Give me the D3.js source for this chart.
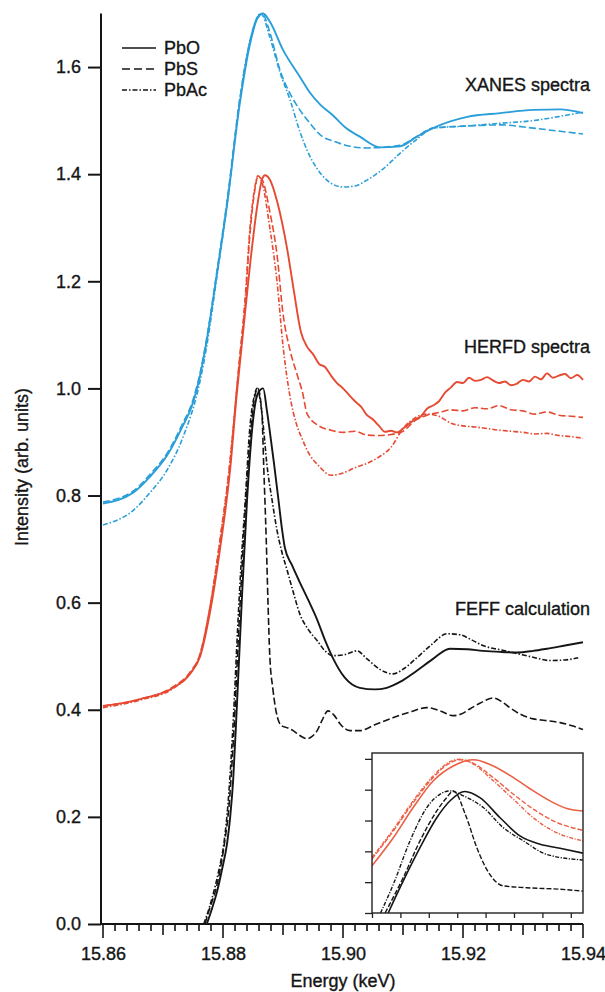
<!DOCTYPE html>
<html>
<head>
<meta charset="utf-8">
<script src="https://cdn.jsdelivr.net/npm/d3@7"></script>
<style>
  html, body { margin: 0; padding: 0; background: #fff; }
  svg { display: block; font-family: "Liberation Sans", Arial, sans-serif; }
  svg text { stroke: #151515; stroke-width: 0.35px; }
</style>
</head>
<body>
<div id="chart"></div>
<script>
// Main panel: [energy keV, intensity]
const xanesPbO = [[15.86, 0.785], [15.865, 0.805], [15.8678, 0.835], [15.8707, 0.875], [15.8733, 0.93], [15.8748, 0.967], [15.8762, 1.025], [15.8773, 1.09], [15.879, 1.215], [15.8807, 1.345], [15.8828, 1.532], [15.8845, 1.643], [15.8857, 1.69], [15.8867, 1.70], [15.8878, 1.685], [15.89, 1.632], [15.8928, 1.582], [15.8945, 1.552], [15.8962, 1.53], [15.8983, 1.51], [15.9003, 1.488], [15.9028, 1.47], [15.9062, 1.45], [15.9095, 1.452], [15.9123, 1.47], [15.915, 1.486], [15.9207, 1.507], [15.9262, 1.514], [15.9317, 1.52], [15.9362, 1.521], [15.94, 1.514]];
const xanesPbS = [[15.86, 0.788], [15.865, 0.808], [15.8678, 0.839], [15.8707, 0.879], [15.8733, 0.935], [15.8748, 0.972], [15.8762, 1.03], [15.8773, 1.095], [15.879, 1.22], [15.8807, 1.352], [15.8828, 1.54], [15.8845, 1.648], [15.8857, 1.692], [15.8865, 1.70], [15.8878, 1.665], [15.8895, 1.594], [15.8912, 1.55], [15.8928, 1.52], [15.8945, 1.495], [15.8967, 1.469], [15.8983, 1.462], [15.9012, 1.452], [15.904, 1.449], [15.9095, 1.454], [15.9123, 1.47], [15.915, 1.486], [15.9207, 1.49], [15.9262, 1.492], [15.9317, 1.486], [15.9362, 1.48], [15.94, 1.475]];
const xanesPbAc = [[15.86, 0.745], [15.865, 0.772], [15.8678, 0.805], [15.8707, 0.848], [15.8733, 0.908], [15.8762, 1.015], [15.8773, 1.08], [15.879, 1.21], [15.8807, 1.345], [15.8828, 1.54], [15.8845, 1.65], [15.8863, 1.70], [15.8878, 1.656], [15.8895, 1.59], [15.8912, 1.538], [15.8928, 1.48], [15.894, 1.445], [15.8957, 1.41], [15.8973, 1.389], [15.9, 1.376], [15.902, 1.378], [15.904, 1.389], [15.9067, 1.41], [15.9095, 1.439], [15.9123, 1.465], [15.915, 1.486], [15.9207, 1.49], [15.9262, 1.495], [15.9317, 1.50], [15.9362, 1.508], [15.94, 1.516]];

const herfdPbO = [[15.86, 0.407], [15.8662, 0.42], [15.8717, 0.441], [15.8745, 0.467], [15.8762, 0.50], [15.8778, 0.58], [15.8795, 0.70], [15.8812, 0.85], [15.8823, 0.99], [15.8833, 1.10], [15.8845, 1.23], [15.8857, 1.34], [15.8865, 1.39], [15.887, 1.398], [15.8878, 1.39], [15.889, 1.35], [15.8907, 1.26], [15.8917, 1.19],
  [15.893, 1.105], [15.894, 1.078], [15.895, 1.064], [15.896, 1.046], [15.897, 1.04], [15.898, 1.024], [15.899, 1.01], [15.900, 1.0], [15.901, 0.988], [15.902, 0.976], [15.903, 0.966], [15.904, 0.95], [15.905, 0.942], [15.906, 0.93], [15.907, 0.919], [15.908, 0.921], [15.909, 0.918], [15.910, 0.925], [15.911, 0.934], [15.912, 0.942], [15.913, 0.948], [15.914, 0.962], [15.915, 0.968], [15.916, 0.976], [15.917, 0.992], [15.918, 1.002], [15.919, 1.012], [15.920, 1.01], [15.921, 1.02], [15.922, 1.014], [15.923, 1.016], [15.924, 1.021], [15.925, 1.015], [15.926, 1.01], [15.927, 1.013], [15.928, 1.006], [15.929, 1.009], [15.930, 1.016], [15.931, 1.013], [15.932, 1.022], [15.933, 1.017], [15.934, 1.028], [15.935, 1.02], [15.936, 1.024], [15.937, 1.027], [15.938, 1.019], [15.939, 1.025], [15.940, 1.016]];
const herfdPbS = [[15.86, 0.407], [15.8662, 0.42], [15.8717, 0.443], [15.8745, 0.47], [15.8762, 0.505], [15.8778, 0.59], [15.8795, 0.715], [15.8812, 0.865], [15.8823, 1.0], [15.8828, 1.06], [15.8837, 1.16], [15.8845, 1.29], [15.8853, 1.37], [15.8858, 1.395], [15.8865, 1.39], [15.8878, 1.33], [15.889, 1.25], [15.89, 1.14], [15.8912, 1.07], [15.8923, 1.028], [15.8933, 0.99],
  [15.894, 0.953], [15.896, 0.93], [15.898, 0.922], [15.900, 0.918], [15.902, 0.92], [15.904, 0.913], [15.906, 0.912], [15.908, 0.914], [15.910, 0.92], [15.912, 0.94], [15.914, 0.95], [15.916, 0.955], [15.918, 0.96], [15.920, 0.958], [15.922, 0.964], [15.924, 0.962], [15.926, 0.968], [15.928, 0.96], [15.930, 0.958], [15.932, 0.952], [15.934, 0.956], [15.936, 0.95], [15.938, 0.948], [15.940, 0.946]];
const herfdPbAc = [[15.86, 0.404], [15.8662, 0.418], [15.8717, 0.44], [15.8745, 0.468], [15.8762, 0.505], [15.8778, 0.59], [15.8795, 0.718], [15.8812, 0.868], [15.8823, 1.0], [15.8837, 1.17], [15.8845, 1.30], [15.8853, 1.375], [15.8858, 1.397], [15.8865, 1.385], [15.8878, 1.30], [15.889, 1.2], [15.89, 1.08], [15.8912, 0.983], [15.8922, 0.935], [15.8933, 0.903],
  [15.894, 0.885], [15.896, 0.855], [15.898, 0.838], [15.900, 0.842], [15.902, 0.852], [15.904, 0.86], [15.906, 0.872], [15.908, 0.89], [15.910, 0.925], [15.912, 0.945], [15.914, 0.952], [15.916, 0.948], [15.918, 0.935], [15.920, 0.93], [15.922, 0.928], [15.924, 0.925], [15.926, 0.922], [15.928, 0.92], [15.930, 0.918], [15.932, 0.915], [15.934, 0.916], [15.936, 0.912], [15.938, 0.91], [15.940, 0.907]];

const feffPbO = [[15.8773, 0], [15.8782, 0.03], [15.879, 0.06], [15.8798, 0.10], [15.8807, 0.152], [15.8812, 0.20], [15.8817, 0.27], [15.8822, 0.38], [15.8827, 0.50], [15.8832, 0.62], [15.884, 0.79], [15.885, 0.94], [15.8858, 0.99], [15.8867, 1.0], [15.8873, 0.96], [15.8878, 0.92], [15.8885, 0.86], [15.8892, 0.796], [15.8898, 0.74], [15.8903, 0.703], [15.8915, 0.67], [15.8928, 0.638], [15.8942, 0.605], [15.8957, 0.568], [15.897, 0.53], [15.8983, 0.497], [15.9003, 0.46], [15.9028, 0.441], [15.9053, 0.438], [15.9073, 0.441], [15.9095, 0.452], [15.9123, 0.473], [15.915, 0.495], [15.9178, 0.514], [15.9207, 0.513], [15.9233, 0.51], [15.9262, 0.508], [15.929, 0.507], [15.9317, 0.51], [15.934, 0.514], [15.937, 0.52], [15.94, 0.526]];
const feffPbS = [[15.877, 0], [15.8778, 0.03], [15.8787, 0.06], [15.8795, 0.10], [15.8803, 0.155], [15.881, 0.22], [15.8815, 0.30], [15.882, 0.40], [15.8825, 0.52], [15.883, 0.63], [15.8838, 0.79], [15.8847, 0.93], [15.8853, 0.985], [15.8858, 1.0], [15.8865, 0.95], [15.8868, 0.85], [15.8872, 0.72], [15.8875, 0.60], [15.8878, 0.50], [15.8883, 0.44], [15.8888, 0.40], [15.8893, 0.378], [15.8898, 0.37], [15.8908, 0.366], [15.8917, 0.361], [15.8928, 0.352], [15.894, 0.346], [15.8948, 0.35], [15.8957, 0.361], [15.8965, 0.38], [15.8975, 0.398], [15.8985, 0.39], [15.8995, 0.374], [15.9003, 0.365], [15.9012, 0.361], [15.9028, 0.361], [15.9053, 0.372], [15.9083, 0.385], [15.9112, 0.396], [15.914, 0.404], [15.9162, 0.398], [15.9183, 0.389], [15.9197, 0.392], [15.9212, 0.402], [15.9228, 0.412], [15.925, 0.422], [15.9265, 0.415], [15.9278, 0.404], [15.9295, 0.392], [15.9317, 0.383], [15.9337, 0.38], [15.9362, 0.376], [15.9382, 0.37], [15.94, 0.363]];
const feffPbAc = [[15.8768, 0], [15.8777, 0.03], [15.8785, 0.062], [15.8793, 0.10], [15.8802, 0.155], [15.8808, 0.22], [15.8813, 0.30], [15.8818, 0.40], [15.8823, 0.52], [15.8828, 0.63], [15.8837, 0.79], [15.8845, 0.93], [15.8852, 0.985], [15.8857, 1.0], [15.8863, 0.97], [15.8868, 0.92], [15.8873, 0.86], [15.8882, 0.79], [15.889, 0.735], [15.8898, 0.695], [15.8907, 0.66], [15.8917, 0.62], [15.8928, 0.579], [15.8942, 0.55], [15.8957, 0.529], [15.897, 0.51], [15.8983, 0.501], [15.9003, 0.503], [15.9023, 0.51], [15.904, 0.495], [15.9062, 0.475], [15.9083, 0.467], [15.9103, 0.478], [15.9123, 0.497], [15.9148, 0.522], [15.9173, 0.542], [15.9195, 0.54], [15.9215, 0.53], [15.9233, 0.52], [15.9262, 0.512], [15.929, 0.505], [15.9317, 0.498], [15.9345, 0.492], [15.937, 0.493], [15.9392, 0.497]];

// Inset (unlabelled axes, tick units)
const insetHerfdPbO = [[0, 1.53], [0.75, 2.44], [1.45, 3.42], [2.16, 4.29], [2.86, 4.77], [3.57, 4.97], [4.27, 4.77], [4.98, 4.39], [5.68, 3.96], [6.38, 3.58], [6.86, 3.39], [7.43, 3.31]];
const insetHerfdPbS = [[0, 1.75], [0.75, 2.66], [1.45, 3.58], [2.16, 4.40], [2.75, 4.87], [3.10, 4.97], [3.57, 4.85], [4.27, 4.39], [4.98, 3.85], [5.68, 3.37], [6.38, 2.99], [7.43, 2.68]];
const insetHerfdPbAc = [[0, 1.80], [0.75, 2.71], [1.45, 3.64], [2.16, 4.45], [2.75, 4.91], [3.10, 4.99], [3.57, 4.83], [4.27, 4.29], [4.98, 3.69], [5.68, 3.09], [6.38, 2.66], [7.43, 2.34]];
const insetFeffPbO = [[0.57, 0], [1.10, 1.04], [1.69, 2.12], [2.28, 3.09], [2.75, 3.64], [3.27, 3.94], [3.80, 3.74], [4.51, 3.09], [5.21, 2.50], [5.92, 2.23], [6.62, 2.10], [7.43, 1.94]];
const insetFeffPbS = [[0.46, 0], [1.10, 1.15], [1.69, 2.34], [2.28, 3.31], [2.63, 3.74], [2.86, 3.96], [3.33, 3.09], [3.69, 2.12], [4.15, 1.25], [4.62, 0.88], [5.45, 0.82], [6.62, 0.77], [7.43, 0.71]];
const insetFeffPbAc = [[0.30, 0], [0.75, 0.93], [1.34, 2.34], [1.93, 3.42], [2.39, 3.85], [2.75, 3.96], [3.22, 3.80], [3.92, 3.42], [4.62, 2.77], [5.33, 2.34], [6.15, 1.90], [7.43, 1.72]];

const xTicks = [15.86, 15.88, 15.90, 15.92, 15.94];
const yTicks = [0.0, 0.2, 0.4, 0.6, 0.8, 1.0, 1.2, 1.4, 1.6];
const compounds = ['PbO', 'PbS', 'PbAc'];
const groupLabels = ['XANES spectra', 'HERFD spectra', 'FEFF calculation'];

const width = 605, height = 992;
const blue = '#2a9ed8', red = '#e64a33', black = '#151515', insetRed = '#ec5f45';
const dashes = {PbO: null, PbS: '7,3', PbAc: '5,2,1.5,2'};

const x = d3.scaleLinear().domain([15.86, 15.94]).range([103, 583]);
const y = d3.scaleLinear().domain([0, 1.7]).range([924, 13.5]);

const svg = d3.select('#chart')
  .append('svg')
    .attr('width', width)
    .attr('height', height);

svg.append('rect').attr('width', width).attr('height', height).attr('fill', '#fff');

svg.append('defs').append('clipPath').attr('id', 'plot')
  .append('rect').attr('x', 101).attr('y', 0).attr('width', 483).attr('height', 924);

const line = d3.line().x(d => x(d[0])).y(d => y(d[1])).curve(d3.curveMonotoneX);

const series = [
  [xanesPbO, 'PbO', blue], [xanesPbS, 'PbS', blue], [xanesPbAc, 'PbAc', blue],
  [herfdPbO, 'PbO', red], [herfdPbS, 'PbS', red], [herfdPbAc, 'PbAc', red],
  [feffPbO, 'PbO', black], [feffPbS, 'PbS', black], [feffPbAc, 'PbAc', black],
];

svg.append('g')
  .attr('clip-path', 'url(#plot)')
  .selectAll('path')
  .data(series)
  .join('path')
    .attr('d', d => line(d[0]))
    .attr('fill', 'none')
    .attr('stroke', d => d[2])
    .attr('stroke-width', d => d[1] == 'PbO'? 1.9 : 1.6)
    .attr('stroke-dasharray', d => dashes[d[1]]);

// Axes
const yAxis = svg.append('g')
  .attr('transform', 'translate(101,0)')
  .call(d3.axisLeft(y).tickValues(yTicks).tickFormat(d3.format('.1f')).tickSize(13).tickPadding(7));

const minor = d3.range(15.86, 15.9401, 0.002).map(v => +v.toFixed(3));
const xAxis = svg.append('g')
  .attr('transform', 'translate(0,924)');
xAxis.selectAll('line')
  .data(minor)
  .join('line')
    .attr('x1', d => x(d)).attr('x2', d => x(d))
    .attr('y1', 0)
    .attr('y2', d => {
      const k = Math.round(d * 1000);
      return k % 20 == 0? 14 : k % 10 == 0? 11 : 7;
    })
    .attr('stroke', black)
    .attr('stroke-width', 1.6);
xAxis.call(d3.axisBottom(x).tickValues(xTicks).tickFormat(d3.format('.2f')).tickSize(0).tickPadding(23));

[yAxis, xAxis].forEach(g => {
  g.select('.domain').attr('stroke', black).attr('stroke-width', 2);
  g.selectAll('.tick line').attr('stroke', black).attr('stroke-width', 2);
  g.selectAll('.tick text')
    .attr('fill', black)
    .style('font-size', '18px')
    .style('font-family', '"Liberation Sans", Arial, sans-serif');
});
yAxis.select('.domain').attr('d', `M0,${y(1.7)}V924`);
xAxis.select('.domain').attr('d', `M${x(15.86) - 2},0H${x(15.94)}`);

svg.append('text')
  .attr('x', x(15.9))
  .attr('y', 987)
  .attr('text-anchor', 'middle')
  .attr('font-size', 18)
  .attr('fill', black)
  .text('Energy (keV)');

svg.append('text')
  .attr('transform', 'translate(28,467) rotate(-90)')
  .attr('text-anchor', 'middle')
  .attr('font-size', 18)
  .attr('fill', black)
  .text('Intensity (arb. units)');

// Group labels
svg.selectAll('.group-label')
  .data(groupLabels)
  .join('text')
    .attr('class', 'group-label')
    .attr('x', 590)
    .attr('y', (d, i) => [91, 353, 615][i])
    .attr('text-anchor', 'end')
    .attr('font-size', 18)
    .attr('fill', black)
    .text(d => d);

// Legend
const legend = svg.append('g').attr('transform', 'translate(122,48)');
const rows = legend.selectAll('g')
  .data(compounds)
  .join('g')
    .attr('transform', (d, i) => `translate(0,${i * 21})`);
rows.append('line')
  .attr('x1', 0).attr('x2', 34)
  .attr('stroke', black)
  .attr('stroke-width', 1.6)
  .attr('stroke-dasharray', d => d == 'PbS'? '8,4' : dashes[d]);
rows.append('text')
  .attr('x', 42)
  .attr('y', 6)
  .attr('font-size', 18)
  .attr('fill', black)
  .text(d => d);

// Inset
const ix = d3.scaleLinear().domain([0, 7.43]).range([372, 583]);
const iy = d3.scaleLinear().domain([0, 5.19]).range([913, 753]);
const inset = svg.append('g');

inset.append('rect')
  .attr('x', 372).attr('y', 753).attr('width', 211).attr('height', 160)
  .attr('fill', '#fff');

svg.select('defs').append('clipPath').attr('id', 'inset')
  .append('rect').attr('x', 372).attr('y', 753).attr('width', 211).attr('height', 160);

const iline = d3.line().x(d => ix(d[0])).y(d => iy(d[1])).curve(d3.curveMonotoneX);
const insetSeries = [
  [insetHerfdPbO, 'PbO', insetRed], [insetHerfdPbS, 'PbS', insetRed], [insetHerfdPbAc, 'PbAc', insetRed],
  [insetFeffPbO, 'PbO', black], [insetFeffPbS, 'PbS', black], [insetFeffPbAc, 'PbAc', black],
];
inset.append('g')
  .attr('clip-path', 'url(#inset)')
  .selectAll('path')
  .data(insetSeries)
  .join('path')
    .attr('d', d => iline(d[0]))
    .attr('fill', 'none')
    .attr('stroke', d => d[2])
    .attr('stroke-width', d => d[1] == 'PbO'? 1.6 : 1.4)
    .attr('stroke-dasharray', d => d[1] == 'PbS'? '5,2' : d[1] == 'PbAc'? '4,1.5,1.2,1.5' : null);

inset.append('g')
  .attr('transform', 'translate(372,0)')
  .call(d3.axisLeft(iy).tickValues(d3.range(0, 6)).tickFormat('').tickSize(7))
  .call(g => g.select('.domain').remove());
inset.append('g')
  .attr('transform', 'translate(0,913)')
  .call(d3.axisBottom(ix).tickValues(d3.range(0, 8)).tickFormat('').tickSize(5))
  .call(g => g.select('.domain').remove());
inset.selectAll('.tick line').attr('stroke', '#222').attr('stroke-width', 1.3);

inset.append('rect')
  .attr('x', 372).attr('y', 753).attr('width', 211).attr('height', 160)
  .attr('fill', 'none')
  .attr('stroke', '#222')
  .attr('stroke-width', 1.4);
</script>
</body>
</html>
